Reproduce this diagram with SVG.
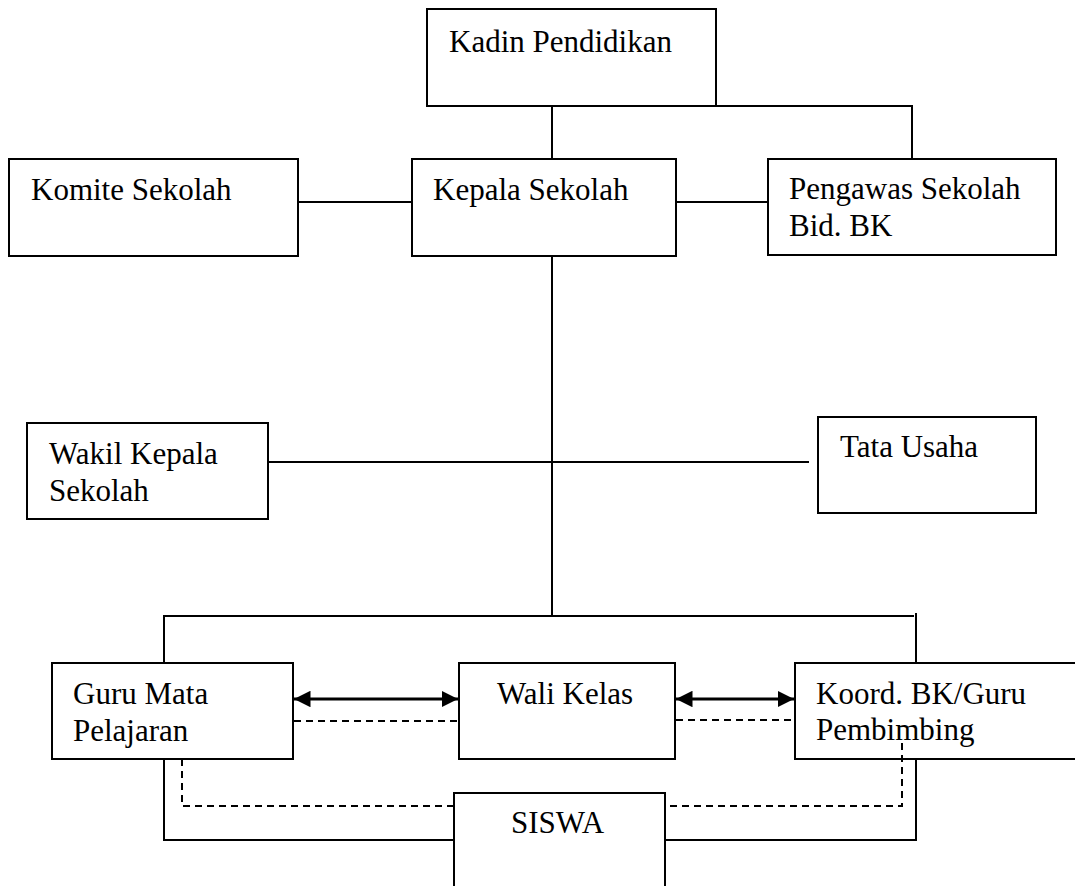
<svg xmlns="http://www.w3.org/2000/svg" width="1075" height="886" viewBox="0 0 1075 886">
<style>
.box{fill:#fff;stroke:#000;stroke-width:2}
.ln{fill:none;stroke:#000;stroke-width:2}
.dash{fill:none;stroke:#000;stroke-width:2;stroke-dasharray:7 5}
.arr{fill:none;stroke:#000;stroke-width:3}
text{font-family:"Liberation Serif","Times New Roman",serif;font-size:31px;fill:#000}
</style>
<defs>
<marker id="ah" viewBox="0 0 10 10" refX="10" refY="5" markerWidth="5.5" markerHeight="5.5" orient="auto-start-reverse" markerUnits="strokeWidth">
<path d="M0,0 L10,5 L0,10 z" fill="#000"/>
</marker>
</defs>
<rect width="1075" height="886" fill="#fff"/>
<g id="connectors">
<path class="ln" d="M552,106 V159"/>
<path class="ln" d="M716,106 H912 V159"/>
<path class="ln" d="M298,202 H412"/>
<path class="ln" d="M676,202 H768"/>
<path class="ln" d="M552,256 V616"/>
<path class="ln" d="M268,462 H809"/>
<path class="ln" d="M164,663 V616 H914"/>
<path class="ln" d="M916,613 V663"/>
<line class="arr" x1="294" y1="699" x2="458" y2="699" marker-start="url(#ah)" marker-end="url(#ah)"/>
<path class="dash" d="M294,721 H458"/>
<line class="arr" x1="676" y1="699" x2="794" y2="699" marker-start="url(#ah)" marker-end="url(#ah)"/>
<path class="dash" d="M676,720 H794"/>
<path class="ln" d="M164,759 V840 H454"/>
<path class="dash" d="M182,759 V806 H454"/>
<path class="ln" d="M916,759 V840 H665"/>
<path class="dash" d="M902,743 V806 H665"/>
</g>
<g id="kadin">
<rect class="box" x="427" y="9" width="289" height="97"/>
<text x="449" y="52">Kadin Pendidikan</text>
</g>
<g id="komite">
<rect class="box" x="9" y="159" width="289" height="97"/>
<text x="31" y="200">Komite Sekolah</text>
</g>
<g id="kepala">
<rect class="box" x="412" y="159" width="264" height="97"/>
<text x="433" y="200">Kepala Sekolah</text>
</g>
<g id="pengawas">
<rect class="box" x="768" y="159" width="288" height="96"/>
<text x="789" y="199">Pengawas Sekolah</text>
<text x="789" y="236">Bid. BK</text>
</g>
<g id="wakil">
<rect class="box" x="27" y="423" width="241" height="96"/>
<text x="49" y="464">Wakil Kepala</text>
<text x="49" y="501">Sekolah</text>
</g>
<g id="tatausaha">
<rect class="box" x="818" y="417" width="218" height="96"/>
<text x="840" y="457">Tata Usaha</text>
</g>
<g id="guru">
<rect class="box" x="52" y="663" width="241" height="96"/>
<text x="73" y="704">Guru Mata</text>
<text x="73" y="741">Pelajaran</text>
</g>
<g id="wali">
<rect class="box" x="459" y="663" width="216" height="96"/>
<text x="497" y="704">Wali Kelas</text>
</g>
<g id="koord">
<rect class="box" x="795" y="663" width="290" height="96"/>
<text x="816" y="704">Koord. BK/Guru</text>
<text x="816" y="740">Pembimbing</text>
</g>
<path class="dash" d="M902,743 V759"/>
<g id="siswa">
<rect class="box" x="454" y="793" width="211" height="110"/>
<text x="511" y="833">SISWA</text>
</g>
</svg>
